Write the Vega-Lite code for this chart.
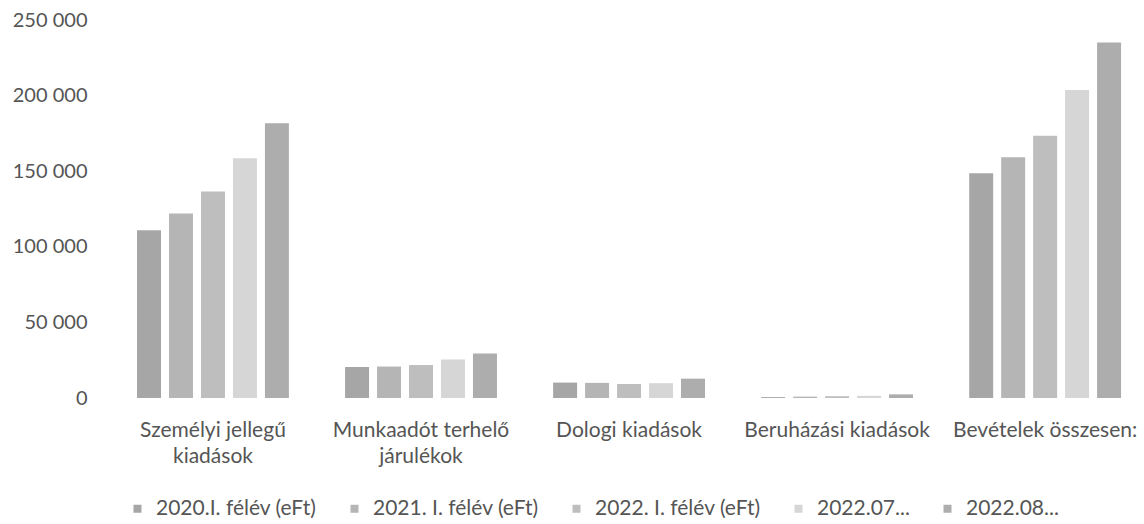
{
  "$schema": "https://vega.github.io/schema/vega-lite/v6.json",
  "width": 1035,
  "height": 378,
  "autosize": {"type": "none"},
  "padding": {"left": 109, "top": 20, "right": 0, "bottom": 126},
  "background": "white",
  "config": {
    "view": {"stroke": null},
    "font": "Lato"
  },
  "data": {
    "values": [
      {"kat": "Személyi jellegű kiadások", "idoszak": "2020.I. félév (eFt)", "ertek": 111000},
      {"kat": "Személyi jellegű kiadások", "idoszak": "2021. I. félév (eFt)", "ertek": 122000},
      {"kat": "Személyi jellegű kiadások", "idoszak": "2022. I. félév (eFt)", "ertek": 136500},
      {"kat": "Személyi jellegű kiadások", "idoszak": "2022.07...", "ertek": 158500},
      {"kat": "Személyi jellegű kiadások", "idoszak": "2022.08...", "ertek": 181700},
      {"kat": "Munkaadót terhelő járulékok", "idoszak": "2020.I. félév (eFt)", "ertek": 20500},
      {"kat": "Munkaadót terhelő járulékok", "idoszak": "2021. I. félév (eFt)", "ertek": 20800},
      {"kat": "Munkaadót terhelő járulékok", "idoszak": "2022. I. félév (eFt)", "ertek": 21800},
      {"kat": "Munkaadót terhelő járulékok", "idoszak": "2022.07...", "ertek": 25500},
      {"kat": "Munkaadót terhelő járulékok", "idoszak": "2022.08...", "ertek": 29500},
      {"kat": "Dologi kiadások", "idoszak": "2020.I. félév (eFt)", "ertek": 10200},
      {"kat": "Dologi kiadások", "idoszak": "2021. I. félév (eFt)", "ertek": 10000},
      {"kat": "Dologi kiadások", "idoszak": "2022. I. félév (eFt)", "ertek": 9200},
      {"kat": "Dologi kiadások", "idoszak": "2022.07...", "ertek": 9800},
      {"kat": "Dologi kiadások", "idoszak": "2022.08...", "ertek": 12800},
      {"kat": "Beruházási kiadások", "idoszak": "2020.I. félév (eFt)", "ertek": 600},
      {"kat": "Beruházási kiadások", "idoszak": "2021. I. félév (eFt)", "ertek": 900},
      {"kat": "Beruházási kiadások", "idoszak": "2022. I. félév (eFt)", "ertek": 1200},
      {"kat": "Beruházási kiadások", "idoszak": "2022.07...", "ertek": 1400},
      {"kat": "Beruházási kiadások", "idoszak": "2022.08...", "ertek": 2400},
      {"kat": "Bevételek összesen:", "idoszak": "2020.I. félév (eFt)", "ertek": 148600},
      {"kat": "Bevételek összesen:", "idoszak": "2021. I. félév (eFt)", "ertek": 159200},
      {"kat": "Bevételek összesen:", "idoszak": "2022. I. félév (eFt)", "ertek": 173500},
      {"kat": "Bevételek összesen:", "idoszak": "2022.07...", "ertek": 203700},
      {"kat": "Bevételek összesen:", "idoszak": "2022.08...", "ertek": 235200}
    ]
  },
  "mark": {"type": "bar"},
  "encoding": {
    "x": {
      "field": "kat",
      "type": "nominal",
      "sort": null,
      "scale": {"paddingInner": 0.27, "paddingOuter": 0.1225, "align": 0.55},
      "axis": {
        "title": null,
        "domain": false,
        "ticks": false,
        "labelAngle": 0,
        "labelFontSize": 21,
        "labelColor": "#555555",
        "labelPadding": 21,
        "labelLineHeight": 26,
        "labelLimit": 300,
        "labelExpr": "datum.value == 'Személyi jellegű kiadások' ? ['Személyi jellegű', 'kiadások'] : datum.value == 'Munkaadót terhelő járulékok' ? ['Munkaadót terhelő', 'járulékok'] : datum.value"
      }
    },
    "xOffset": {
      "field": "idoszak",
      "type": "nominal",
      "sort": null,
      "scale": {"paddingInner": 0.25, "paddingOuter": 0}
    },
    "y": {
      "field": "ertek",
      "type": "quantitative",
      "scale": {"domain": [0, 250000], "nice": false},
      "axis": {
        "title": null,
        "domain": false,
        "ticks": false,
        "grid": false,
        "values": [0, 50000, 100000, 150000, 200000, 250000],
        "labelExpr": "replace(format(datum.value, ','), ',', ' ')",
        "labelFontSize": 20,
        "labelColor": "#555555",
        "labelPadding": 22
      }
    },
    "color": {
      "field": "idoszak",
      "type": "nominal",
      "sort": null,
      "scale": {
        "domain": ["2020.I. félév (eFt)", "2021. I. félév (eFt)", "2022. I. félév (eFt)", "2022.07...", "2022.08..."],
        "range": ["#a6a6a6", "#b5b5b5", "#bebebe", "#d6d6d6", "#adadad"]
      },
      "legend": {
        "title": null,
        "orient": "none",
        "legendX": 18,
        "legendY": 478,
        "direction": "horizontal",
        "columns": 5,
        "symbolType": "square",
        "symbolSize": 64,
        "symbolStrokeWidth": 0,
        "labelFontSize": 21,
        "labelColor": "#555555",
        "labelOffset": 8,
        "columnPadding": 27,
        "labelLimit": 300
      }
    }
  }
}
